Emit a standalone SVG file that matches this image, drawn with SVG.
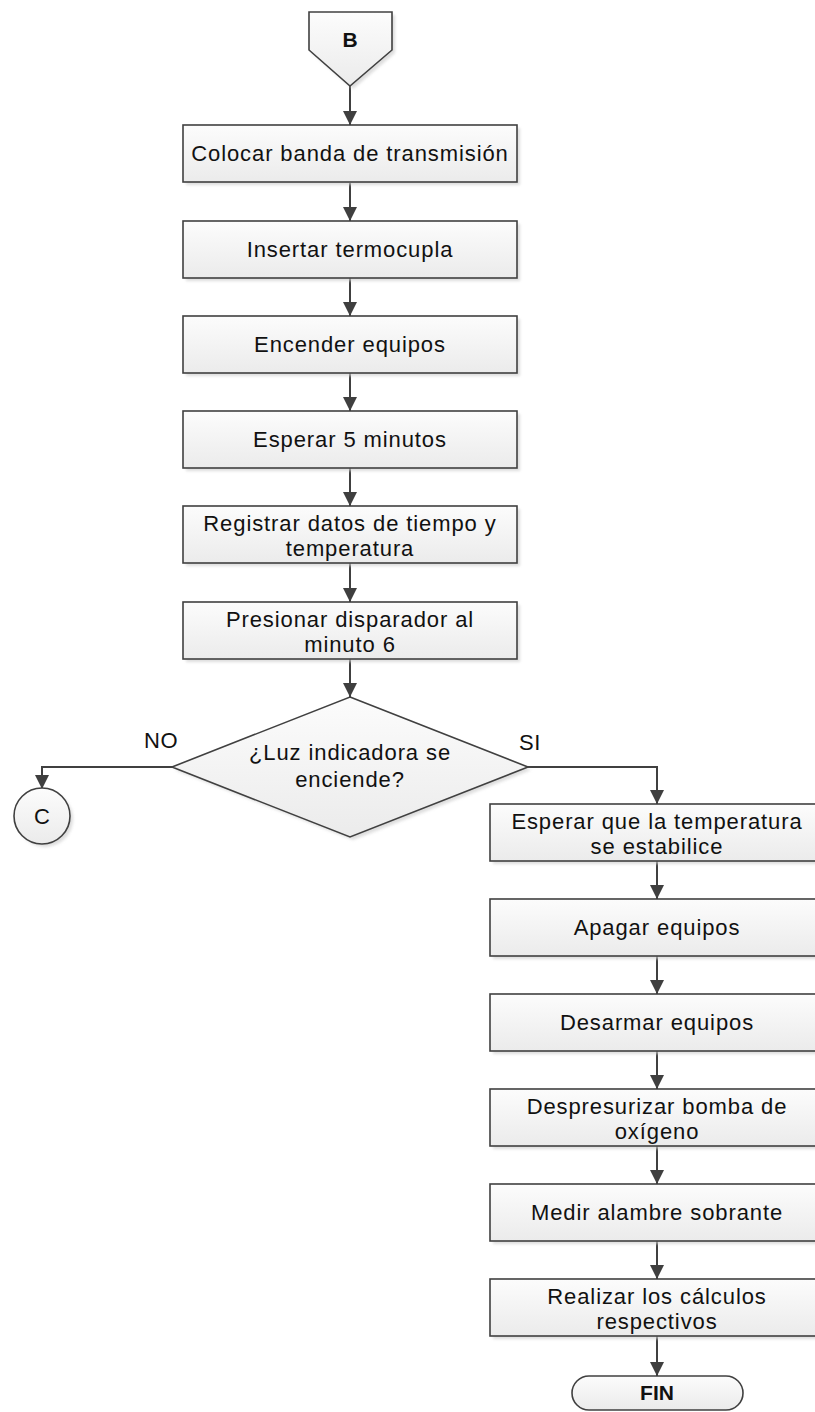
<svg xmlns="http://www.w3.org/2000/svg" width="815" height="1412" viewBox="0 0 815 1412">
  <defs>
    <linearGradient id="fillGrad" x1="0" y1="0" x2="0" y2="1">
      <stop offset="0" stop-color="#fcfcfc"/>
      <stop offset="1" stop-color="#ebebeb"/>
    </linearGradient>
    <filter id="shadow" x="-10%" y="-10%" width="130%" height="140%">
      <feGaussianBlur stdDeviation="1.5"/>
    </filter>
    <marker id="arrow" viewBox="0 0 14 18" refX="14" refY="7" markerWidth="14" markerHeight="18" markerUnits="userSpaceOnUse" orient="auto">
      <path d="M0,0 L14,7 L0,14 Z" fill="#3f3f3f"/>
    </marker>
  </defs>
  <style>
    .shape { fill: url(#fillGrad); stroke: #404040; stroke-width: 1.6; }
    .shade { fill: #cfcfcf; opacity: 0.7; filter: url(#shadow); }
    .lbl { font-family: "Liberation Sans", Arial, sans-serif; font-size: 22px; fill: #111; text-anchor: middle; letter-spacing: 0.9px; }
    .bold { font-weight: bold; letter-spacing: 0; font-size: 21px; }
    .edge { fill: none; stroke: #404040; stroke-width: 2; marker-end: url(#arrow); }
  </style>
  <rect width="815" height="1412" fill="#ffffff"/>

  <!-- connectors -->
  <g id="connectors">
    <path class="edge" d="M350,86 L350,125"/>
    <path class="edge" d="M350,183 L350,221"/>
    <path class="edge" d="M350,278 L350,316"/>
    <path class="edge" d="M350,373 L350,411"/>
    <path class="edge" d="M350,468 L350,506"/>
    <path class="edge" d="M350,563 L350,602"/>
    <path class="edge" d="M350,659 L350,697"/>
    <path class="edge" d="M172,767 L42,767 L42,789"/>
    <path class="edge" d="M528,767 L657,767 L657,804"/>
    <path class="edge" d="M657,861 L657,899"/>
    <path class="edge" d="M657,956 L657,994"/>
    <path class="edge" d="M657,1051 L657,1089"/>
    <path class="edge" d="M657,1146 L657,1184"/>
    <path class="edge" d="M657,1241 L657,1279"/>
    <path class="edge" d="M657,1336 L657,1376"/>
    <text class="lbl" x="161" y="748" style="letter-spacing:0.5px">NO</text>
    <text class="lbl" x="530" y="750" style="letter-spacing:0.5px">SI</text>
  </g>

  <!-- off-page connector B -->
  <g id="node-b">
    <path class="shade" d="M312,15 L395,15 L395,53 L353,89 L312,53 Z"/>
    <path class="shape" d="M309,12 L392,12 L392,50 L350,86 L309,50 Z"/>
    <text class="lbl bold" x="350" y="47">B</text>
  </g>

  <g id="node-colocar">
    <rect class="shade" x="186" y="128" width="334" height="57"/>
    <rect class="shape" x="183" y="125" width="334" height="57"/>
    <text class="lbl" x="350" y="161">Colocar banda de transmisión</text>
  </g>

  <g id="node-insertar">
    <rect class="shade" x="186" y="224" width="334" height="57"/>
    <rect class="shape" x="183" y="221" width="334" height="57"/>
    <text class="lbl" x="350" y="257">Insertar termocupla</text>
  </g>

  <g id="node-encender">
    <rect class="shade" x="186" y="319" width="334" height="57"/>
    <rect class="shape" x="183" y="316" width="334" height="57"/>
    <text class="lbl" x="350" y="352">Encender equipos</text>
  </g>

  <g id="node-esperar5">
    <rect class="shade" x="186" y="414" width="334" height="57"/>
    <rect class="shape" x="183" y="411" width="334" height="57"/>
    <text class="lbl" x="350" y="447">Esperar 5 minutos</text>
  </g>

  <g id="node-registrar">
    <rect class="shade" x="186" y="509" width="334" height="57"/>
    <rect class="shape" x="183" y="506" width="334" height="57"/>
    <text class="lbl" x="350" y="531">Registrar datos de tiempo y</text>
    <text class="lbl" x="350" y="556">temperatura</text>
  </g>

  <g id="node-presionar">
    <rect class="shade" x="186" y="605" width="334" height="57"/>
    <rect class="shape" x="183" y="602" width="334" height="57"/>
    <text class="lbl" x="350" y="627">Presionar disparador al</text>
    <text class="lbl" x="350" y="652">minuto 6</text>
  </g>

  <g id="node-decision">
    <path class="shade" d="M353,700 L531,770 L353,840 L175,770 Z"/>
    <path class="shape" d="M350,697 L528,767 L350,837 L172,767 Z"/>
    <text class="lbl" x="350" y="760">¿Luz indicadora se</text>
    <text class="lbl" x="350" y="787">enciende?</text>
  </g>

  <g id="node-c">
    <circle class="shade" cx="45" cy="819" r="28"/>
    <circle class="shape" cx="42" cy="816" r="28"/>
    <text class="lbl" x="42" y="824" style="letter-spacing:0">C</text>
  </g>

  <g id="node-estabilice">
    <rect class="shade" x="493" y="807" width="334" height="57"/>
    <rect class="shape" x="490" y="804" width="334" height="57"/>
    <text class="lbl" x="657" y="829">Esperar que la temperatura</text>
    <text class="lbl" x="657" y="854">se estabilice</text>
  </g>

  <g id="node-apagar">
    <rect class="shade" x="493" y="902" width="334" height="57"/>
    <rect class="shape" x="490" y="899" width="334" height="57"/>
    <text class="lbl" x="657" y="935">Apagar equipos</text>
  </g>

  <g id="node-desarmar">
    <rect class="shade" x="493" y="997" width="334" height="57"/>
    <rect class="shape" x="490" y="994" width="334" height="57"/>
    <text class="lbl" x="657" y="1030">Desarmar equipos</text>
  </g>

  <g id="node-despresurizar">
    <rect class="shade" x="493" y="1092" width="334" height="57"/>
    <rect class="shape" x="490" y="1089" width="334" height="57"/>
    <text class="lbl" x="657" y="1114">Despresurizar bomba de</text>
    <text class="lbl" x="657" y="1139">oxígeno</text>
  </g>

  <g id="node-medir">
    <rect class="shade" x="493" y="1187" width="334" height="57"/>
    <rect class="shape" x="490" y="1184" width="334" height="57"/>
    <text class="lbl" x="657" y="1220">Medir alambre sobrante</text>
  </g>

  <g id="node-realizar">
    <rect class="shade" x="493" y="1282" width="334" height="57"/>
    <rect class="shape" x="490" y="1279" width="334" height="57"/>
    <text class="lbl" x="657" y="1304">Realizar los cálculos</text>
    <text class="lbl" x="657" y="1329">respectivos</text>
  </g>

  <g id="node-fin">
    <rect class="shape" x="572" y="1376" width="171" height="34" rx="17" ry="17"/>
    <text class="lbl bold" x="657" y="1400">FIN</text>
  </g>
</svg>
